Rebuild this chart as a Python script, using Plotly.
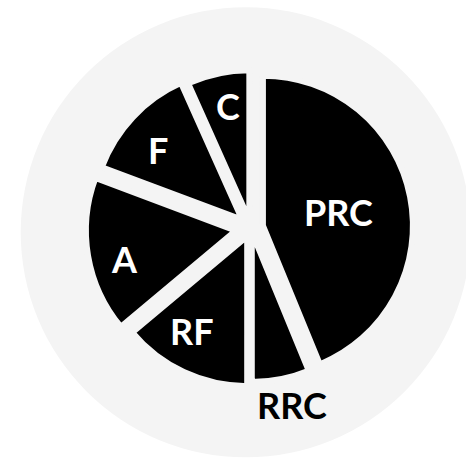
import math
import plotly.graph_objects as go

# Data (clockwise from 12 o'clock)
labels = ["PRC", "RRC", "RF", "A", "F", "C"]
values = [43.8, 6.2, 13.9, 16.8, 12.6, 6.7]
pulls = [0.081, 0.027, 0.06, 0.102, 0.08, 0.053]
label_radius = [0.59, 1.21, 0.79, 0.87, 0.81, 0.83]   # label distance / pie radius
label_angle_shift = [0.7, -1.9, 5.0, -4.0, -3.3, 1.5]  # degrees, off the bisector
label_colors = ["white", "black", "white", "white", "white", "white"]

W, H = 466, 459
BG = "#f4f4f4"

# pie geometry (pixels)
CX, CY = 251, 228
R = 150
max_pull = max(pulls)
half_box = R * (1 + max_pull)
dom_x = [(CX - half_box) / W, (CX + half_box) / W]
dom_y = [1 - (CY + half_box) / H, 1 - (CY - half_box) / H]

fig = go.Figure()

fig.add_trace(go.Pie(
    labels=labels,
    values=values,
    pull=pulls,
    sort=False,
    direction="clockwise",
    rotation=0,
    textinfo="none",
    marker=dict(colors=["black"] * len(labels), line=dict(color=BG, width=6)),
    domain=dict(x=dom_x, y=dom_y),
    hoverinfo="label+value",
    showlegend=False,
))

# slice labels placed along each slice's bisector
total = sum(values)
cum = 0.0
annotations = []
for lab, v, rf, da, col in zip(labels, values, label_radius, label_angle_shift, label_colors):
    mid = (cum + v / 2) / total * 2 * math.pi + math.radians(da)
    cum += v
    px = CX + rf * R * math.sin(mid)
    py = CY - rf * R * math.cos(mid)
    annotations.append(dict(
        x=px / W, y=1 - py / H, xref="paper", yref="paper",
        text=lab, showarrow=False, xanchor="center", yanchor="middle",
        font=dict(family="Lato", size=36, color=col, weight="bold"),
    ))

# light grey disc behind the pie
fig.add_shape(type="circle", xref="paper", yref="paper",
              x0=20.7 / W, x1=(20.7 + 450) / W,
              y0=1 - (7.3 + 450) / H, y1=1 - 7.3 / H,
              fillcolor=BG, line=dict(width=0), layer="below")

fig.update_layout(
    width=W, height=H,
    margin=dict(l=0, r=0, t=0, b=0),
    paper_bgcolor="white",
    plot_bgcolor="white",
    showlegend=False,
    annotations=annotations,
)

fig.write_html("out.html",
               config={"displayModeBar": False},
               post_script="document.body.style.margin='0';document.body.style.overflow='hidden';")
